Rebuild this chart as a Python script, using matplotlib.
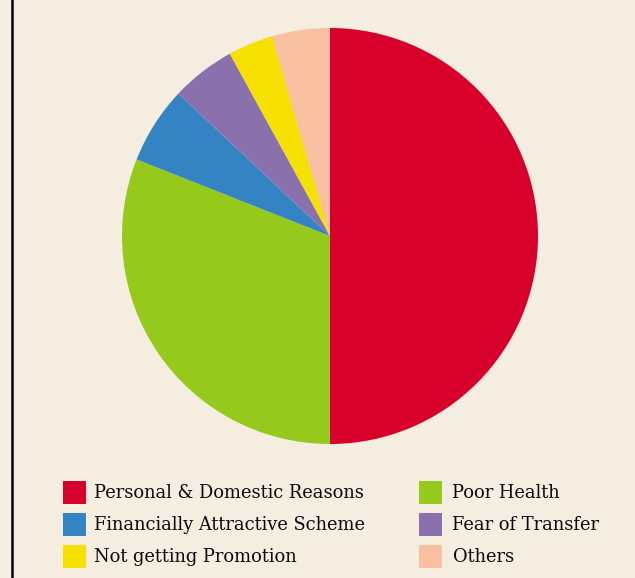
import matplotlib
matplotlib.use("Agg")
import matplotlib.pyplot as plt
from matplotlib.patches import Rectangle
from matplotlib.lines import Line2D

labels = ["Personal & Domestic Reasons", "Poor Health", "Financially Attractive Scheme",
          "Fear of Transfer", "Not getting Promotion", "Others"]
values = [50, 31, 6, 5, 3.5, 4.5]
colors = ["#d7002a", "#95c91b", "#3484c4", "#8a71ad", "#f5e000", "#f8bfa0"]
bg = "#f5eee0"

W, H = 635, 578
fig = plt.figure(figsize=(W / 100, H / 100), dpi=100, facecolor=bg)

cx, cy, r = 330, 236, 208
ax = fig.add_axes([(cx - r) / W, (H - cy - r) / H, 2 * r / W, 2 * r / H])
ax.set_facecolor(bg)
ax.pie(values, colors=colors, startangle=90, counterclock=False, radius=1,
       wedgeprops=dict(linewidth=0))
ax.set_xlim(-1, 1)
ax.set_ylim(-1, 1)
ax.set_aspect("equal")
ax.axis("off")

# left border
fig.add_artist(Line2D([12 / W, 12 / W], [0, 1], color="black", linewidth=1.8,
                      transform=fig.transFigure))

col_x = [62.5, 418.5]
text_x = [93.5, 452.5]
row_y = [492, 524, 556]
for i in range(len(labels)):
    col = i % 2
    row = i // 2
    x0 = col_x[col]
    yc = row_y[row]
    fig.add_artist(Rectangle((x0 / W, (H - yc - 11.5) / H), 23 / W, 23 / H,
                             facecolor=colors[i], edgecolor="none",
                             transform=fig.transFigure))
    fig.text(text_x[col] / W, (H - yc - 1.5) / H, labels[i], fontsize=12.9,
             family="DejaVu Serif", color="#0a0a0a",
             va="center", ha="left")

fig.savefig("out.png", dpi=100, facecolor=bg)
